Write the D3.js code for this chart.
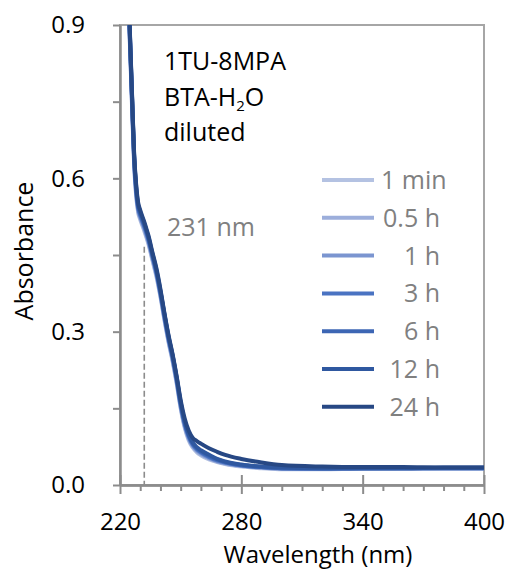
<!DOCTYPE html>
<html>
<head>
<meta charset="utf-8">
<script src="https://cdn.jsdelivr.net/npm/d3@7"></script>
<style>
  body { margin: 0; background: #fff; }
  text { font-family: "Open Sans", sans-serif; }
</style>
</head>
<body>
<div id="chart"></div>
<script>
// wavelength grid (nm)
const wavelength = [222, 223, 224, 225, 226, 227, 228, 229, 230, 231, 232, 233, 234, 236, 238, 240, 242, 244, 246, 248, 250, 252, 254, 256, 258, 260, 264, 268, 272, 280, 290, 300, 320, 340, 360, 380, 400];

// absorbance for each time point
const abs_1min = [1.23, 1.10, 0.97, 0.850, 0.735, 0.625, 0.565, 0.533, 0.519, 0.508, 0.497, 0.485, 0.472, 0.440, 0.408, 0.368, 0.322, 0.279, 0.242, 0.199, 0.150, 0.112, 0.087, 0.073, 0.064, 0.058, 0.050, 0.045, 0.041, 0.036, 0.033, 0.031, 0.031, 0.032, 0.032, 0.033, 0.033];
const abs_05h = [1.235, 1.105, 0.975, 0.855, 0.740, 0.630, 0.569, 0.536, 0.522, 0.511, 0.500, 0.488, 0.475, 0.443, 0.411, 0.371, 0.325, 0.282, 0.245, 0.202, 0.153, 0.115, 0.090, 0.075, 0.066, 0.060, 0.052, 0.046, 0.042, 0.037, 0.034, 0.032, 0.032, 0.032, 0.033, 0.033, 0.033];
const abs_1h = [1.24, 1.11, 0.98, 0.860, 0.745, 0.634, 0.573, 0.539, 0.525, 0.514, 0.503, 0.491, 0.478, 0.446, 0.414, 0.373, 0.327, 0.284, 0.247, 0.204, 0.155, 0.117, 0.092, 0.077, 0.068, 0.062, 0.053, 0.047, 0.043, 0.038, 0.034, 0.032, 0.032, 0.033, 0.033, 0.033, 0.033];
const abs_3h = [1.245, 1.115, 0.985, 0.865, 0.750, 0.638, 0.577, 0.542, 0.528, 0.517, 0.506, 0.494, 0.481, 0.449, 0.416, 0.376, 0.330, 0.287, 0.250, 0.207, 0.158, 0.120, 0.095, 0.079, 0.070, 0.064, 0.055, 0.048, 0.044, 0.038, 0.035, 0.033, 0.032, 0.033, 0.033, 0.033, 0.033];
const abs_6h = [1.25, 1.12, 0.99, 0.868, 0.753, 0.641, 0.580, 0.545, 0.531, 0.520, 0.509, 0.497, 0.484, 0.451, 0.418, 0.378, 0.332, 0.289, 0.252, 0.209, 0.160, 0.122, 0.097, 0.081, 0.072, 0.066, 0.057, 0.050, 0.045, 0.039, 0.035, 0.033, 0.033, 0.033, 0.033, 0.033, 0.033];
const abs_12h = [1.255, 1.125, 0.995, 0.871, 0.756, 0.644, 0.583, 0.548, 0.534, 0.523, 0.512, 0.499, 0.486, 0.453, 0.421, 0.380, 0.334, 0.291, 0.254, 0.211, 0.162, 0.124, 0.099, 0.083, 0.074, 0.068, 0.059, 0.051, 0.046, 0.040, 0.036, 0.034, 0.033, 0.033, 0.033, 0.034, 0.034];
const abs_24h = [1.26, 1.13, 1.00, 0.875, 0.760, 0.648, 0.588, 0.552, 0.538, 0.526, 0.515, 0.502, 0.489, 0.456, 0.424, 0.383, 0.336, 0.293, 0.256, 0.213, 0.166, 0.130, 0.106, 0.092, 0.086, 0.081, 0.072, 0.065, 0.059, 0.051, 0.044, 0.039, 0.036, 0.035, 0.035, 0.034, 0.034];

const seriesNames = ["1 min", "0.5 h", "1 h", "3 h", "6 h", "12 h", "24 h"];
const seriesColors = ["#b4c2e2", "#9caedb", "#7b95d0", "#4a73c2", "#3d66b4", "#2f58a0", "#274884"];
const seriesValues = [abs_1min, abs_05h, abs_1h, abs_3h, abs_6h, abs_12h, abs_24h];

const xMajor = [220, 280, 340, 400];
const xMinor = [230, 240, 250, 260, 270, 290, 300, 310, 320, 330, 350, 360, 370, 380, 390];
const yMajor = [0, 0.3, 0.6, 0.9];
const yMinor = [0.15, 0.45, 0.75];

const peakWavelength = 232;   // where the dashed marker sits
const peakAbs = 0.466;
const peakLabel = "231 nm";

const W = 514, H = 570;
const margin = {top: 25, right: 30, bottom: 85, left: 120};

const svg = d3.select("#chart")
  .append("svg")
  .attr("width", W)
  .attr("height", H);

const x = d3.scaleLinear().domain([220, 400]).range([margin.left, W - margin.right]);
const y = d3.scaleLinear().domain([0, 0.9]).range([H - margin.bottom, margin.top]);

const axisColor = "#8c8c8c";

// plot frame (top and right edges)
svg.append("rect")
  .attr("x", x(220)).attr("y", y(0.9))
  .attr("width", x(400) - x(220)).attr("height", y(0) - y(0.9))
  .attr("fill", "none")
  .attr("stroke", "#a6a6a6")
  .attr("stroke-width", 2);

svg.append("clipPath").attr("id", "plotclip")
  .append("rect")
  .attr("x", x(220)).attr("y", y(0.9))
  .attr("width", x(400) - x(220)).attr("height", y(0) - y(0.9));

// dashed marker at the shoulder
svg.append("line")
  .attr("x1", x(peakWavelength)).attr("x2", x(peakWavelength))
  .attr("y1", y(peakAbs)).attr("y2", y(0))
  .attr("stroke", "#8c8c8c")
  .attr("stroke-width", 1.6)
  .attr("stroke-dasharray", "6,3");

svg.append("text")
  .attr("x", 167).attr("y", 236)
  .attr("font-size", 25)
  .attr("fill", "#808080")
  .text(peakLabel);

// curves
const line = d3.line()
  .x((d, i) => x(wavelength[i]))
  .y(d => y(d))
  .curve(d3.curveMonotoneX);

svg.append("g")
  .attr("clip-path", "url(#plotclip)")
  .selectAll("path")
  .data(seriesValues)
  .join("path")
    .attr("d", d => line(d))
    .attr("fill", "none")
    .attr("stroke", (d, i) => seriesColors[i])
    .attr("stroke-width", 4)
    .attr("stroke-linejoin", "round");

// x axis: labelled major ticks below, short stubs above, minor ticks below
svg.append("g")
  .attr("transform", `translate(0, ${y(0)})`)
  .call(d3.axisBottom(x).tickValues(xMajor).tickSize(9).tickSizeOuter(0).tickPadding(19).tickFormat(d3.format("d")));
svg.append("g")
  .attr("transform", `translate(0, ${y(0)})`)
  .call(d3.axisTop(x).tickValues(xMajor).tickSize(10).tickSizeOuter(0).tickFormat(""));
svg.append("g")
  .attr("transform", `translate(0, ${y(0)})`)
  .call(d3.axisBottom(x).tickValues(xMinor).tickSize(6).tickSizeOuter(0).tickFormat(""));

// y axis
svg.append("g")
  .attr("transform", `translate(${x(220)}, 0)`)
  .call(d3.axisLeft(y).tickValues(yMajor).tickSize(7).tickSizeOuter(0).tickPadding(28).tickFormat(d3.format(".1f")));
svg.append("g")
  .attr("transform", `translate(${x(220)}, 0)`)
  .call(d3.axisLeft(y).tickValues(yMinor).tickSize(7).tickSizeOuter(0).tickFormat(""));

svg.selectAll(".domain, .tick line")
  .attr("stroke", axisColor)
  .attr("stroke-width", 2);
svg.selectAll(".tick text")
  .attr("font-size", 24)
  .attr("font-family", "'Open Sans', sans-serif")
  .attr("fill", "#000");

// axis titles
svg.append("text")
  .attr("x", 318).attr("y", 563)
  .attr("text-anchor", "middle")
  .attr("font-size", 24)
  .text("Wavelength (nm)");

svg.append("text")
  .attr("transform", `translate(33, 251) rotate(-90)`)
  .attr("text-anchor", "middle")
  .attr("font-size", 25)
  .text("Absorbance");

// sample annotation
const note = svg.append("text")
  .attr("font-size", 25)
  .attr("fill", "#000");
note.append("tspan").attr("x", 164).attr("y", 70).text("1TU-8MPA");
const l2 = note.append("tspan").attr("x", 164).attr("y", 106);
l2.append("tspan").text("BTA-H");
l2.append("tspan").attr("font-size", 15).attr("dy", 5).text("2");
l2.append("tspan").attr("dy", -5).text("O");
note.append("tspan").attr("x", 164).attr("y", 141).text("diluted");

// legend
const legend = svg.append("g");
const rows = legend.selectAll("g")
  .data(seriesNames)
  .join("g")
    .attr("transform", (d, i) => `translate(0, ${180 + i * 37.8})`);

rows.append("line")
  .attr("x1", 322).attr("x2", 374)
  .attr("stroke", (d, i) => seriesColors[i])
  .attr("stroke-width", 4);

rows.append("text")
  .attr("y", 0)
  .attr("dy", "0.36em")
  .attr("font-size", 25)
  .attr("fill", "#808080")
  .text(d => d)
  .each(function() {
    // right-align to 440, but never closer than 7px to the swatch
    const w = this.getComputedTextLength();
    d3.select(this).attr("x", Math.max(381, 440 - w));
  });
</script>
</body>
</html>
